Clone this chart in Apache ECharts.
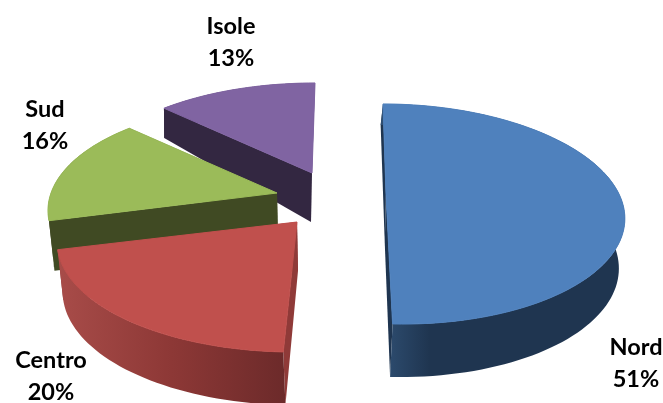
<!DOCTYPE html>
<html>
<head>
<meta charset="utf-8">
<style>html,body{margin:0;padding:0;background:#fff}#c{width:663px;height:403px}</style>
<script src="https://cdn.jsdelivr.net/npm/echarts@6/dist/echarts.min.js"></script>
</head>
<body>
<div id="c"></div>
<script>
const categories = ['Nord', 'Centro', 'Sud', 'Isole'];
const values = [50.6, 20.4, 16, 13];
const topColors = ['#4f81bd', '#c0504d', '#9bbb59', '#8064a2'];
const cutColors = ['#1f3550', '#8f3a38', '#404a23', '#332741'];
const wallStops = [
  [[0, '#2f4f73'], [0.2, '#1f3550'], [1, '#1f3550']],
  [[0, '#a84c49'], [0.5, '#8d3836'], [1, '#6c2a2a']],
  [[0, '#404a23'], [1, '#404a23']],
  [[0, '#332741'], [1, '#332741']]
];
// per-slice placement: apex, arc centre, skew, radius scale, wall foot shift
const apexes = [[386, 194], [297, 222], [277, 193], [312, 173]];
const arcCentres = [[393, 194], [294, 222], [284, 193], [315, 173]];
const skews = [10, 0, 5.3, 0];
const radiusScales = [0.97, 1, 1, 1];
const footShift = [-2.5, 2, 2, -2];
const labelPos = [[636, 363], [51, 376], [45, 125], [231, 42]];
const drawOrder = [3, 2, 0, 1];

const RX = 233, RY = 106.4, K = 0.1818;
const total = values.reduce((a, b) => a + b, 0);
const starts = [];
values.reduce((acc, v, i) => { starts[i] = acc; return acc + v; }, 0);

function topPt(i, a) {
  const u = Math.sin(a), v = -Math.cos(a), den = 1 - K * v;
  const c = arcCentres[i];
  return [c[0] + RX * radiusScales[i] * u / den + skews[i] * v, c[1] + RY * v / den, v];
}
function depth(v) { return v < 0 ? 49 + 28 * v : 49 + 4 * v; }
function botPt(i, a) {
  const p = topPt(i, a), c = arcCentres[i];
  return [c[0] + (p[0] - c[0]) * 0.985 + footShift[i], p[1] + depth(p[2])];
}
function arcAngles(i) {
  const a1 = starts[i] / total * 2 * Math.PI, a2 = (starts[i] + values[i]) / total * 2 * Math.PI;
  const n = Math.max(12, Math.round(values[i] * 2)), out = [];
  for (let j = 0; j <= n; j++) out.push(a1 + (a2 - a1) * j / n);
  return out;
}

const chart = echarts.init(document.getElementById('c'), null, { renderer: 'canvas' });
chart.setOption({
  animation: false,
  backgroundColor: '#fff',
  series: [{
    type: 'custom',
    coordinateSystem: 'none',
    silent: true,
    data: drawOrder.map(i => [i, values[i]]),
    renderItem: function (params, api) {
      const i = api.value(0);
      const angs = arcAngles(i);
      const ap = apexes[i];
      const apBot = [ap[0] + footShift[i] / 2, ap[1] + 49];
      const tops = angs.map(a => topPt(i, a).slice(0, 2));
      const bots = angs.map(a => botPt(i, a));
      const last = angs.length - 1;
      const poly = (pts, fill, extra) => ({
        type: 'polygon', shape: { points: pts },
        style: Object.assign({ fill: fill, stroke: null }, extra || {})
      });
      const wallFill = new echarts.graphic.LinearGradient(0, 0, 1, 0,
        wallStops[i].map(s => ({ offset: s[0], color: s[1] })));
      return {
        type: 'group',
        children: [
          poly([ap, tops[last], bots[last], apBot], cutColors[i]),
          poly([ap, tops[0], bots[0], apBot], cutColors[i]),
          poly(tops.concat(bots.slice().reverse()), wallFill),
          poly([ap].concat(tops), topColors[i], { stroke: topColors[i], lineWidth: 1 }),
          {
            type: 'text',
            style: {
              text: categories[i] + '\n' + Math.round(values[i] / total * 100) + '%',
              x: labelPos[i][0], y: labelPos[i][1],
              align: 'center', verticalAlign: 'middle',
              font: 'bold 23.5px Lato', lineHeight: 32, fill: '#000'
            }
          }
        ]
      };
    }
  }]
});
</script>
</body>
</html>
